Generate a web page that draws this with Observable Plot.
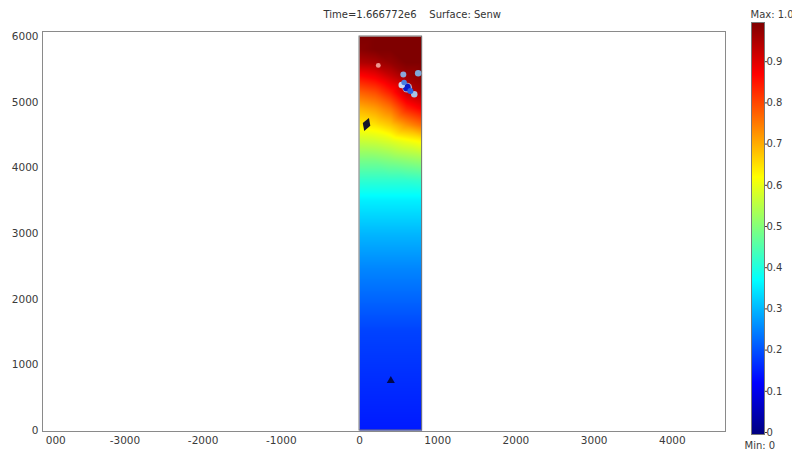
<!DOCTYPE html>
<html><head><meta charset="utf-8">
<script src="https://cdn.jsdelivr.net/npm/d3@7"></script>
<script src="https://cdn.jsdelivr.net/npm/@observablehq/plot@0.6"></script>
<style>
body{margin:0;background:#fff;}
#wrap{position:relative;width:792px;height:450px;overflow:hidden;}
#wrap svg{position:absolute;top:0;left:0;}
</style></head><body><div id="wrap"></div>
<script>
// ---- data ----
const gridX = [0, 200, 400, 600, 800];
const gridY = [0, 800, 1500, 2000, 2500, 3000, 3500, 3800, 4100, 4400, 4650, 4900, 5150, 5400, 5600, 5800, 6000];
const senw = [
  [0.15, 0.15, 0.15, 0.15, 0.15],
  [0.17, 0.17, 0.17, 0.17, 0.17],
  [0.19, 0.19, 0.19, 0.19, 0.19],
  [0.225, 0.225, 0.225, 0.225, 0.225],
  [0.26, 0.26, 0.26, 0.26, 0.26],
  [0.305, 0.305, 0.305, 0.305, 0.305],
  [0.36, 0.36, 0.36, 0.36, 0.36],
  [0.42, 0.42, 0.42, 0.42, 0.425],
  [0.49, 0.49, 0.5, 0.51, 0.52],
  [0.57, 0.575, 0.59, 0.61, 0.63],
  [0.64, 0.65, 0.68, 0.73, 0.77],
  [0.70, 0.72, 0.76, 0.84, 0.88],
  [0.78, 0.80, 0.85, 0.93, 0.96],
  [0.87, 0.89, 0.93, 0.97, 0.99],
  [0.95, 0.96, 0.98, 1.0, 1.0],
  [0.99, 1.0, 1.0, 1.0, 1.0],
  [1.0, 1.0, 1.0, 1.0, 1.0]
];
const domainRect = [{x1: 0, x2: 800, y1: 0, y2: 6000}];
// halos (light) then cores (dark)
const spotX = [610, 560, 750, 700, 540, 240, 605, 650, 570];
const spotY = [5220, 5420, 5440, 5120, 5260, 5560, 5225, 5170, 5300];
const spotR = [8, 3, 3.5, 3.5, 3.5, 2, 5, 3, 2.5];
const spotColor = ["#b8d0ec", "#8aa8d8", "#7fa8d8", "#a8c4e4", "#c8d8f0", "#f4a8a0", "#0a1cc8", "#2a60e0", "#4a80e0"];
const spotOpacity = [0.8, 1, 1, 1, 1, 0.9, 1, 1, 1];
const blobX = [90], blobY = [4660];
const triX = [400], triY = [760];
const xTicks = [-3000, -2000, -1000, 0, 1000, 2000, 3000, 4000];
const xClipped = [-4000];
const yTicks = [0, 1000, 2000, 3000, 4000, 5000, 6000];
const barTicks = [0, 0.1, 0.2, 0.3, 0.4, 0.5, 0.6, 0.7, 0.8, 0.9];
const jet = ["#00007f", "#0000ff", "#007fff", "#00ffff", "#7fff7f", "#ffff00", "#ff7f00", "#ff0000", "#7f0000"];
const titleText = "Time=1.666772e6\u00a0\u00a0\u00a0\u00a0Surface: Senw";

// ---- build tables ----
const pts = [];
gridY.forEach((y, i) => gridX.forEach((x, j) => pts.push({x, y, v: senw[i][j]})));
const spots = spotX.map((x, i) => ({x, y: spotY[i], r: spotR[i], c: spotColor[i], o: spotOpacity[i]}));
const R = domainRect[0];
const colorScale = {type: "linear", domain: [0, 1], interpolate: d3.piecewise(d3.interpolateRgb, jet)};
const font = {fontFamily: "'DejaVu Sans', sans-serif", fontSize: "10.5px", color: "#3a3a3a", background: "transparent", overflow: "visible"};

const main = Plot.plot({
  width: 792, height: 450,
  marginLeft: 42, marginRight: 67, marginTop: 31, marginBottom: 19,
  x: {domain: [-4054, 4680], axis: null},
  y: {domain: [-15, 6076], axis: null},
  color: colorScale,
  style: font,
  marks: [
    Plot.raster(pts, {x: "x", y: "y", fill: "v", x1: R.x1, x2: R.x2, y1: R.y1, y2: R.y2, interpolate: "barycentric", pixelSize: 1}),
    Plot.rect(domainRect, {x1: "x1", x2: "x2", y1: "y1", y2: "y2", stroke: "#777", fill: "none", strokeWidth: 1}),
    Plot.dot(spots, {x: "x", y: "y", r: "r", fill: "c", fillOpacity: "o", stroke: "none"}),
    Plot.dot(blobX.map((x, i) => ({x, y: blobY[i]})), {x: "x", y: "y", symbol: "diamond", r: 4.2, fill: "#14142a", rotate: 20}),
    Plot.dot(triX.map((x, i) => ({x, y: triY[i]})), {x: "x", y: "y", symbol: "triangle", r: 3, fill: "#00084a"}),
    Plot.frame({stroke: "#8a8a8a"}),
    Plot.axisX(xTicks, {tickSize: 0, tickPadding: 5, tickFormat: d => String(d)}),
    Plot.axisX(xClipped, {tickSize: 0, tickPadding: 5, tickFormat: d => String(d).slice(2), dx: 9}),
    Plot.axisY(yTicks, {tickSize: 0, tickPadding: 4, tickFormat: d => String(d)}),
    Plot.text([titleText], {frameAnchor: "top-left", dx: 281, dy: -14, lineAnchor: "bottom", textAnchor: "start", fill: "#333", fontSize: 10})
  ]
});

const bar = Plot.plot({
  width: 792, height: 450,
  marginLeft: 751, marginRight: 28, marginTop: 22, marginBottom: 16,
  x: {domain: [0, 1], axis: null},
  y: {domain: [0, 1], axis: null},
  color: colorScale,
  style: font,
  marks: [
    Plot.raster({fill: (x, y) => y, x1: 0, x2: 1, y1: 0, y2: 1, pixelSize: 1}),
    Plot.frame({stroke: "#777"}),
    Plot.axisY(barTicks, {anchor: "right", tickSize: 2, tickPadding: 0, tickFormat: d => String(d), fontSize: 10, dy: -2}),
    Plot.text(["Max: 1.0"], {frameAnchor: "top-left", dx: -1, dy: -5, lineAnchor: "bottom", textAnchor: "start", fontSize: 10}),
    Plot.text(["Min: 0"], {frameAnchor: "bottom-left", dx: -7, dy: 14, lineAnchor: "bottom", textAnchor: "start", fontSize: 10})
  ]
});

const wrap = document.getElementById("wrap");
wrap.appendChild(main);
wrap.appendChild(bar);
</script></body></html>
